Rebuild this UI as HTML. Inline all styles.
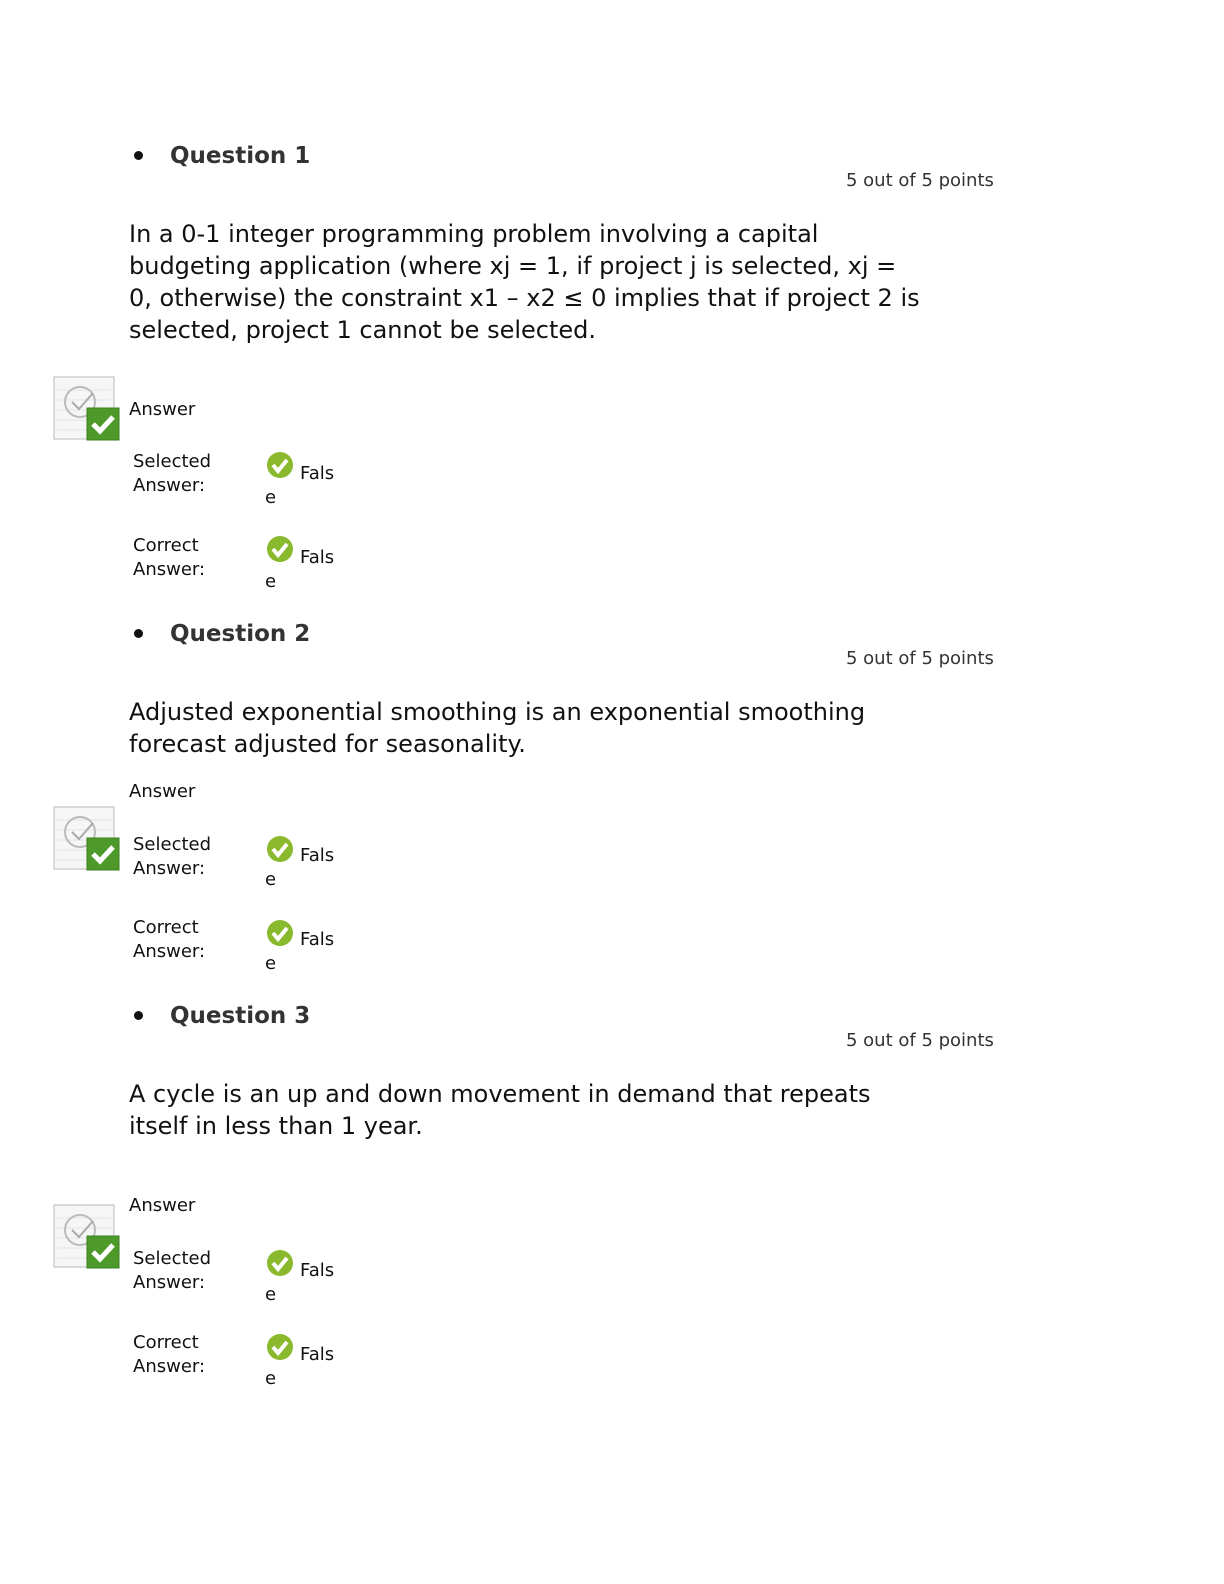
<!DOCTYPE html>
<html><head><style>
body{margin:0;width:1224px;height:1584px;background:#fff;font-family:"DejaVu Sans","Liberation Sans",sans-serif;position:relative;color:#111}
.a{position:absolute;white-space:nowrap}
.h{font-weight:bold;font-size:23px;color:#333;line-height:30px}
.b{font-size:24px;line-height:32px}
.s{font-size:18px;line-height:24px}
.p{font-size:18px;line-height:24px;color:#333}
.dot{position:absolute;width:9px;height:9px;border-radius:50%;background:#111}
</style></head><body>

<svg width="0" height="0" style="position:absolute"><defs>
<g id="ic">
<rect x="1" y="1" width="60" height="62" fill="#f6f6f6" stroke="#bbb"/>
<line x1="4" y1="14" x2="58" y2="14" stroke="#dde6ee"/><line x1="4" y1="24" x2="58" y2="24" stroke="#dde6ee"/><line x1="4" y1="34" x2="58" y2="34" stroke="#dde6ee"/><line x1="4" y1="44" x2="58" y2="44" stroke="#dde6ee"/><line x1="4" y1="54" x2="58" y2="54" stroke="#dde6ee"/>
<circle cx="27" cy="26" r="15" fill="none" stroke="#bbb" stroke-width="2"/>
<path d="M19 26 l7 7 l14 -16" fill="none" stroke="#aaa" stroke-width="2"/>
<rect x="34" y="32" width="32" height="32" fill="#4d9a2a" stroke="#3b7d1e"/>
<path d="M40 48 l7 7 l13 -14" fill="none" stroke="#fff" stroke-width="5"/>
</g>
<g id="ck">
<circle cx="13" cy="13" r="13" fill="#8ab92d"/>
<path d="M6 13 l5 6 l9 -11" fill="none" stroke="#fff" stroke-width="4"/>
</g>
</defs></svg>

<!-- Q1 -->
<div class="dot" style="left:134px;top:151px"></div>
<div class="a h" style="left:170px;top:141px">Question 1</div>
<div class="a p" style="left:846px;top:169px">5 out of 5 points</div>
<div class="a b" style="left:129px;top:218px">In a 0-1 integer programming problem involving a capital<br>budgeting application (where xj = 1, if project j is selected, xj =<br>0, otherwise) the constraint x1 – x2 ≤ 0 implies that if project 2 is<br>selected, project 1 cannot be selected.</div>
<svg class="a" style="left:53px;top:376px" width="68" height="66"><use href="#ic"/></svg>
<div class="a s" style="left:129px;top:398px">Answer</div>
<div class="a s" style="left:133px;top:450px">Selected<br>Answer:</div>
<svg class="a" style="left:267px;top:452px" width="28" height="28"><use href="#ck"/></svg>
<div class="a s" style="left:300px;top:462px">Fals</div>
<div class="a s" style="left:265px;top:486px">e</div>
<div class="a s" style="left:133px;top:534px">Correct<br>Answer:</div>
<svg class="a" style="left:267px;top:536px" width="28" height="28"><use href="#ck"/></svg>
<div class="a s" style="left:300px;top:546px">Fals</div>
<div class="a s" style="left:265px;top:570px">e</div>

<!-- Q2 -->
<div class="dot" style="left:134px;top:629px"></div>
<div class="a h" style="left:170px;top:619px">Question 2</div>
<div class="a p" style="left:846px;top:647px">5 out of 5 points</div>
<div class="a b" style="left:129px;top:696px">Adjusted exponential smoothing is an exponential smoothing<br>forecast adjusted for seasonality.</div>
<div class="a s" style="left:129px;top:780px">Answer</div>
<svg class="a" style="left:53px;top:806px" width="68" height="66"><use href="#ic"/></svg>
<div class="a s" style="left:133px;top:833px">Selected<br>Answer:</div>
<svg class="a" style="left:267px;top:836px" width="28" height="28"><use href="#ck"/></svg>
<div class="a s" style="left:300px;top:844px">Fals</div>
<div class="a s" style="left:265px;top:868px">e</div>
<div class="a s" style="left:133px;top:916px">Correct<br>Answer:</div>
<svg class="a" style="left:267px;top:920px" width="28" height="28"><use href="#ck"/></svg>
<div class="a s" style="left:300px;top:928px">Fals</div>
<div class="a s" style="left:265px;top:952px">e</div>

<!-- Q3 -->
<div class="dot" style="left:134px;top:1011px"></div>
<div class="a h" style="left:170px;top:1001px">Question 3</div>
<div class="a p" style="left:846px;top:1029px">5 out of 5 points</div>
<div class="a b" style="left:129px;top:1078px">A cycle is an up and down movement in demand that repeats<br>itself in less than 1 year.</div>
<div class="a s" style="left:129px;top:1194px">Answer</div>
<svg class="a" style="left:53px;top:1204px" width="68" height="66"><use href="#ic"/></svg>
<div class="a s" style="left:133px;top:1247px">Selected<br>Answer:</div>
<svg class="a" style="left:267px;top:1250px" width="28" height="28"><use href="#ck"/></svg>
<div class="a s" style="left:300px;top:1259px">Fals</div>
<div class="a s" style="left:265px;top:1283px">e</div>
<div class="a s" style="left:133px;top:1331px">Correct<br>Answer:</div>
<svg class="a" style="left:267px;top:1334px" width="28" height="28"><use href="#ck"/></svg>
<div class="a s" style="left:300px;top:1343px">Fals</div>
<div class="a s" style="left:265px;top:1367px">e</div>
</body></html>
